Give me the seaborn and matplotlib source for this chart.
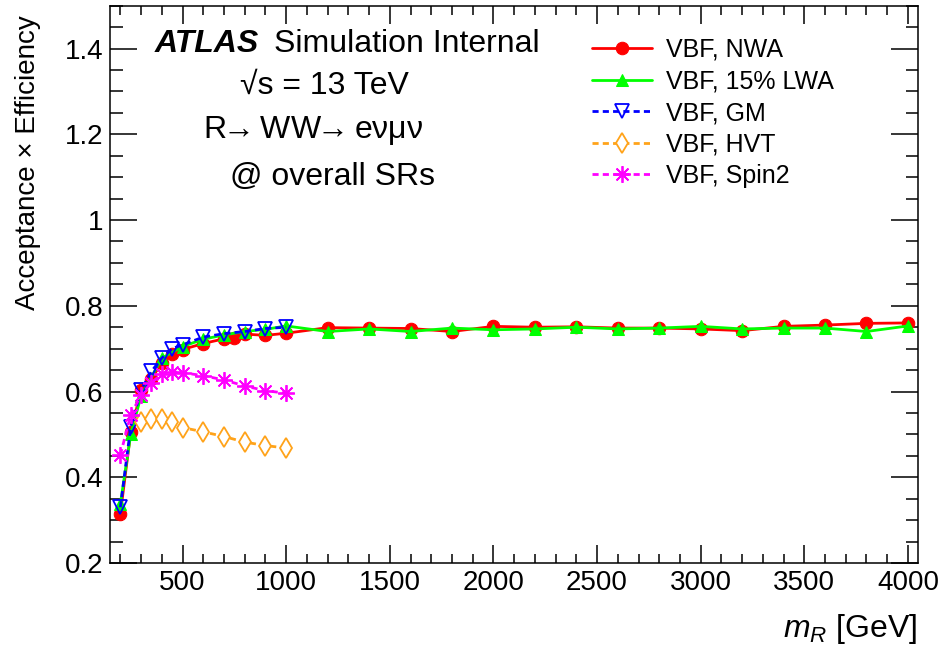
import numpy as np
import matplotlib
matplotlib.use("Agg")
import matplotlib.pyplot as plt
import seaborn as sns
from matplotlib.ticker import MultipleLocator, FormatStrFormatter

# masses and acceptance x efficiency values
mass_nwa = [200, 250, 300, 350, 400, 450, 500, 600, 700, 750, 800, 900, 1000,
            1200, 1400, 1600, 1800, 2000, 2200, 2400, 2600, 2800, 3000, 3200,
            3400, 3600, 3800, 4000]
acc_nwa = [0.315, 0.505, 0.603, 0.630, 0.667, 0.688, 0.698, 0.712, 0.723, 0.724,
           0.734, 0.731, 0.736, 0.749, 0.748, 0.747, 0.740, 0.752, 0.750, 0.751,
           0.748, 0.748, 0.746, 0.742, 0.752, 0.755, 0.759, 0.760]

mass_lwa = [200, 250, 300, 400, 500, 600, 700, 800, 900, 1000, 1200, 1400, 1600,
            1800, 2000, 2200, 2400, 2600, 2800, 3000, 3200, 3400, 3600, 3800, 4000]
acc_lwa = [0.338, 0.500, 0.590, 0.678, 0.705, 0.722, 0.732, 0.740, 0.745, 0.753,
           0.740, 0.746, 0.740, 0.748, 0.744, 0.746, 0.750, 0.746, 0.748, 0.752,
           0.746, 0.748, 0.748, 0.740, 0.753]

mass_gm = [200, 250, 300, 350, 400, 450, 500, 600, 700, 800, 900, 1000]
acc_gm = [0.330, 0.518, 0.604, 0.647, 0.678, 0.700, 0.709, 0.727, 0.735, 0.740,
          0.747, 0.750]

mass_hvt = [300, 350, 400, 450, 500, 600, 700, 800, 900, 1000]
acc_hvt = [0.528, 0.536, 0.536, 0.530, 0.516, 0.506, 0.495, 0.482, 0.474, 0.468]

mass_spin2 = [200, 250, 300, 350, 400, 450, 500, 600, 700, 800, 900, 1000]
acc_spin2 = [0.452, 0.546, 0.592, 0.621, 0.640, 0.646, 0.644, 0.637, 0.627,
             0.613, 0.602, 0.596]

sns.set_style("ticks")
plt.rcParams["font.family"] = ["Liberation Sans", "DejaVu Sans"]
plt.rcParams["text.color"] = "black"
plt.rcParams["mathtext.fontset"] = "custom"
plt.rcParams["mathtext.rm"] = "Liberation Sans"
plt.rcParams["mathtext.it"] = "Liberation Sans:italic"
plt.rcParams["mathtext.bf"] = "Liberation Sans:bold"

W, H = 945, 649
fig = plt.figure(figsize=(W / 100, H / 100), dpi=100)
ax = fig.add_axes([110 / W, (H - 563) / H, (918.3 - 110) / W, (563 - 5.7) / H])

dash = (0, (2.2, 1.5))
sns.lineplot(x=mass_nwa, y=acc_nwa, ax=ax, color="#ff0000", lw=2, marker="o",
             markersize=9, markeredgecolor="#ff0000", label="VBF, NWA")
sns.lineplot(x=mass_lwa, y=acc_lwa, ax=ax, color="#00ff00", lw=2, marker="^",
             markersize=9, markeredgecolor="#00ff00", label="VBF, 15% LWA")
sns.lineplot(x=mass_gm, y=acc_gm, ax=ax, color="#0000ff", lw=2, linestyle=dash,
             marker="v", markersize=10, markerfacecolor="none",
             markeredgecolor="#0000ff", markeredgewidth=1.3, label="VBF, GM")
sns.lineplot(x=mass_hvt, y=acc_hvt, ax=ax, color="#ffa31a", lw=2, linestyle=dash,
             marker="d", markersize=10, markerfacecolor="white",
             markeredgecolor="#ffa31a", markeredgewidth=1.3, label="VBF, HVT")
sns.lineplot(x=mass_spin2, y=acc_spin2, ax=ax, color="#ff00ff", lw=2, linestyle=dash,
             marker=(8, 2, 0), markersize=12, markeredgecolor="#ff00ff",
             markeredgewidth=1.3, label="VBF, Spin2")

ax.set_xlim(150, 4050)
ax.set_ylim(0.2, 1.5)
ax.xaxis.set_major_locator(MultipleLocator(500))
ax.xaxis.set_minor_locator(MultipleLocator(100))
ax.yaxis.set_major_locator(MultipleLocator(0.2))
ax.yaxis.set_minor_locator(MultipleLocator(0.05))
ax.yaxis.set_major_formatter(FormatStrFormatter("%g"))
ax.set_xticks([500, 1000, 1500, 2000, 2500, 3000, 3500, 4000])
ax.tick_params(axis="both", which="both", direction="in", top=True, right=True,
               width=1.1, color="black", labelcolor="black", labelsize=20, pad=5)
ax.tick_params(axis="x", which="major", length=13)
ax.tick_params(axis="x", which="minor", length=6.5)
ax.tick_params(axis="y", which="major", length=19.5)
ax.tick_params(axis="y", which="minor", length=9)
for s in ax.spines.values():
    s.set_linewidth(1.1)
    s.set_color("black")
ax.set_xlabel("")
ax.set_ylabel("")

def px(x, y):
    return x / W, 1 - y / H

fig.text(*px(28, 15), "Acceptance \u00d7 Efficiency", rotation=90, ha="center",
         va="top", fontsize=20)
fig.text(*px(917, 637), r"$m_R$ [GeV]", ha="right", va="baseline", fontsize=23)

fig.text(*px(155, 52), "ATLAS", fontsize=23, fontweight="bold", style="italic",
         va="baseline")
fig.text(*px(274, 52), "Simulation Internal", fontsize=23, va="baseline")
fig.text(*px(240, 94), "\u221as = 13 TeV", fontsize=23, va="baseline")
fig.text(*px(203, 138),
         r"R$\!\!\rightarrow\!\!$ WW$\!\!\rightarrow\!\!$ e$\mathrm{\nu\mu\nu}$",
         fontsize=23, va="baseline")
fig.text(*px(230, 185), "@ overall SRs", fontsize=23, va="baseline")

ax.legend(loc="upper left", bbox_to_anchor=px(592, 38), bbox_transform=fig.transFigure,
          frameon=False, fontsize=18, borderpad=0, borderaxespad=0,
          handlelength=2.4, handletextpad=0.57, labelspacing=0.3)

fig.savefig("out.png", dpi=100)
